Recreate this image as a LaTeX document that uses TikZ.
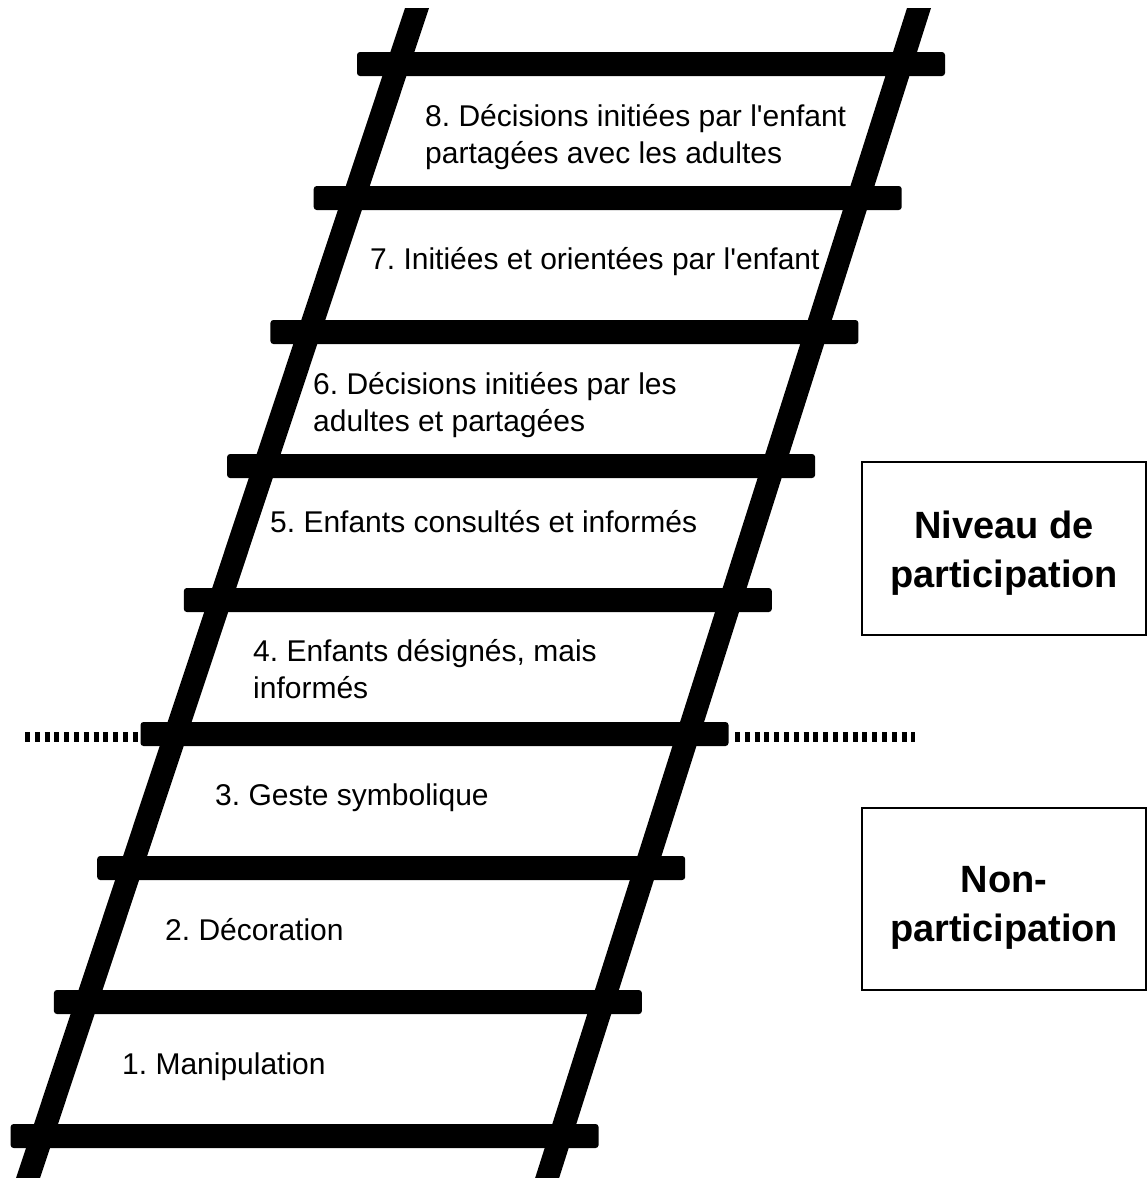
\documentclass[tikz,border=0pt]{standalone}
\usepackage{fontspec}
\setmainfont{Liberation Sans}[Ligatures=TeXOff]
\begin{document}
\frenchspacing
\begin{tikzpicture}[x=1pt,y=-1pt,
  rung/.style={fill=black,rounded corners=3pt},
  rail/.style={fill=black},
  lbl/.style={anchor=west,align=left,inner sep=0pt,font=\fontsize{30}{37}\selectfont},
  catbox/.style={align=center,font=\fontsize{38}{49}\selectfont\bfseries},
  frame/.style={draw=black,line width=1.2pt},
  divider/.style={line width=10pt,dash pattern=on 5pt off 4.8pt}]
\useasboundingbox (0,0) rectangle (1147,1178);
\clip (0,0) rectangle (1147,1178);
% rails
\fill[rail] (405,8) -- (429,8) -- (39.4,1180) -- (15.4,1180) -- cycle;
\fill[rail] (907,8) -- (931,8) -- (558.5,1180) -- (534.5,1180) -- cycle;
% rungs
\foreach \i in {0,...,8}{
  \fill[rung] ({357-43.3*\i},{52+134*\i}) rectangle ++(588,24);
}
% dotted divider
\coordinate (dl1) at (25,737);
\coordinate (dl2) at (145,737);
\coordinate (dr1) at (735,737);
\coordinate (dr2) at (915,737);
\draw[divider] (dl1) -- (dl2);
\draw[divider] (dr1) -- (dr2);
% labels
\node[lbl] (l8) at (425,137) {8. Décisions initiées par l'enfant\\partagées avec les adultes};
\node[lbl] (l7) at (370,262) {7. Initiées et orientées par l'enfant};
\node[lbl] (l6) at (313,405) {6. Décisions initiées par les\\adultes et partagées};
\node[lbl] (l5) at (270,522) {5. Enfants consultés et informés};
\node[lbl] (l4) at (253,669) {4. Enfants désignés, mais\\informés};
\node[lbl] (l3) at (215,798) {3. Geste symbolique};
\node[lbl] (l2) at (165,930) {2. Décoration};
\node[lbl] (l1) at (122,1067) {1. Manipulation};
% category boxes
\draw[frame] (862,462) rectangle (1146,635);
\node[catbox] (np) at (1004,553) {Niveau de\\participation};
\draw[frame] (862,808) rectangle (1146,990);
\node[catbox] (nn) at (1004,908) {Non-\\participation};
\end{tikzpicture}
\end{document}
